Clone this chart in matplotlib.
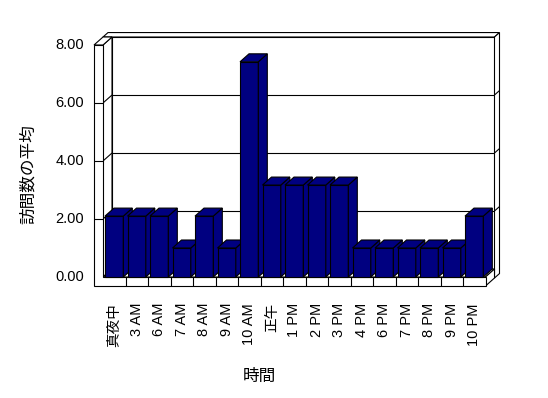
import matplotlib
matplotlib.use('Agg')
import matplotlib.pyplot as plt
from matplotlib.patches import Polygon

# chart data
hours = ['真夜中', '3 AM', '6 AM', '7 AM', '8 AM', '9 AM', '10 AM', '正午',
         '1 PM', '2 PM', '3 PM', '4 PM', '6 PM', '7 PM', '8 PM', '9 PM', '10 PM']
avg_visits = [2.1, 2.1, 2.1, 1.0, 2.1, 1.0, 7.42, 3.17,
              3.17, 3.17, 3.17, 1.0, 1.0, 1.0, 1.0, 1.0, 2.1]
y_ticks = [0, 2, 4, 6, 8]
y_tick_labels = ['0.00', '2.00', '4.00', '6.00', '8.00']
x_title = '時間'
y_title = '訪問数の平均'

# layout (pixels per unit on the front plane)
SX, SY = 22.5, 29.0
DX, DY = 9 / SX, 8 / SY          # depth of the plot box
WALL = 9 / SX                    # left wall thickness
FLOOR = 9 / SY                   # floor thickness
BACK = 5 / 9                     # back wall thickness (in depth units)
BAR_L, BAR_R = 2 / SX, 20.3 / SX
NAVY = '#000080'
LW = 0.8

n = len(hours)
ymax = y_ticks[-1]

fig = plt.figure(figsize=(5.48, 3.98), dpi=100)
ax = fig.add_axes([0, 0, 1, 1])
ax.set_xlim(-103 / SX, (548 - 103) / SX)
ax.set_ylim((277 - 398) / SY, 277 / SY)
ax.axis('off')

order = [1]


def proj(x, y, z):
    return (x + z * DX, y + z * DY)


def face(pts, fc='white'):
    order[0] += 1
    ax.add_patch(Polygon([proj(*p) for p in pts], closed=True, facecolor=fc,
                         edgecolor='black', lw=LW, joinstyle='miter',
                         zorder=order[0]))


def line(p, q):
    order[0] += 1
    a, b = proj(*p), proj(*q)
    ax.plot([a[0], b[0]], [a[1], b[1]], color='black', lw=LW,
            solid_capstyle='butt', zorder=order[0])


# back wall, inner face with gridlines
face([(0, 0, 1), (n, 0, 1), (n, ymax, 1), (0, ymax, 1)])
for v in y_ticks[1:-1]:
    line((0, v, 1), (n, v, 1))
# back wall top and right end
face([(-WALL, ymax, 1), (n, ymax, 1), (n, ymax, 1 + BACK), (-WALL, ymax, 1 + BACK)])
face([(n, -FLOOR, 1), (n, ymax, 1), (n, ymax, 1 + BACK), (n, -FLOOR, 1 + BACK)])
for v in y_ticks[1:-1]:
    line((n, v, 1), (n, v, 1 + BACK))

# left wall inner face with gridlines
face([(0, 0, 0), (0, ymax, 0), (0, ymax, 1), (0, 0, 1)])
for v in y_ticks[1:-1]:
    line((0, v, 0), (0, v, 1))
# left wall top
face([(-WALL, ymax, 0), (0, ymax, 0), (0, ymax, 1), (-WALL, ymax, 1)])

# floor top and right end
face([(0, 0, 0), (n, 0, 0), (n, 0, 1), (0, 0, 1)])
face([(n, -FLOOR, 0), (n, 0, 0), (n, 0, 1), (n, -FLOOR, 1)])

# front of left wall and floor (one L-shaped face)
face([(-WALL, -FLOOR, 0), (n, -FLOOR, 0), (n, 0, 0), (0, 0, 0),
      (0, ymax, 0), (-WALL, ymax, 0)])
for v in y_ticks[1:-1]:
    line((-WALL, v, 0), (0, v, 0))
for i in range(1, n):
    line((i, -FLOOR, 0), (i, 0, 0))

# bars
for i, v in enumerate(avg_visits):
    x0, x1 = i + BAR_L, i + BAR_R
    face([(x0, 0, 0), (x1, 0, 0), (x1, v, 0), (x0, v, 0)], NAVY)
    face([(x1, 0, 0), (x1, 0, 1), (x1, v, 1), (x1, v, 0)], NAVY)
    face([(x0, v, 0), (x1, v, 0), (x1, v, 1), (x0, v, 1)], NAVY)

# tick labels
tick_font = ['Liberation Sans', 'Noto Sans CJK JP']
for v, lab in zip(y_ticks, y_tick_labels):
    ax.text(-WALL - 10 / SX, v, lab, ha='right', va='center',
            fontsize=10.5, family=tick_font, zorder=100)
for i, lab in enumerate(hours):
    ax.text(i + 0.5, -FLOOR - 17 / SY, lab, rotation=90, ha='center', va='top',
            fontsize=10.5, family=tick_font, zorder=100)

fig.text(28 / 548, 1 - 174 / 398, y_title, rotation=90, ha='center', va='center',
         fontsize=12, family=['Noto Sans CJK JP'])
fig.text(259 / 548, 1 - 376 / 398, x_title, ha='center', va='center',
         fontsize=12, family=['Noto Sans CJK JP'])

fig.savefig('out.png', dpi=100)
